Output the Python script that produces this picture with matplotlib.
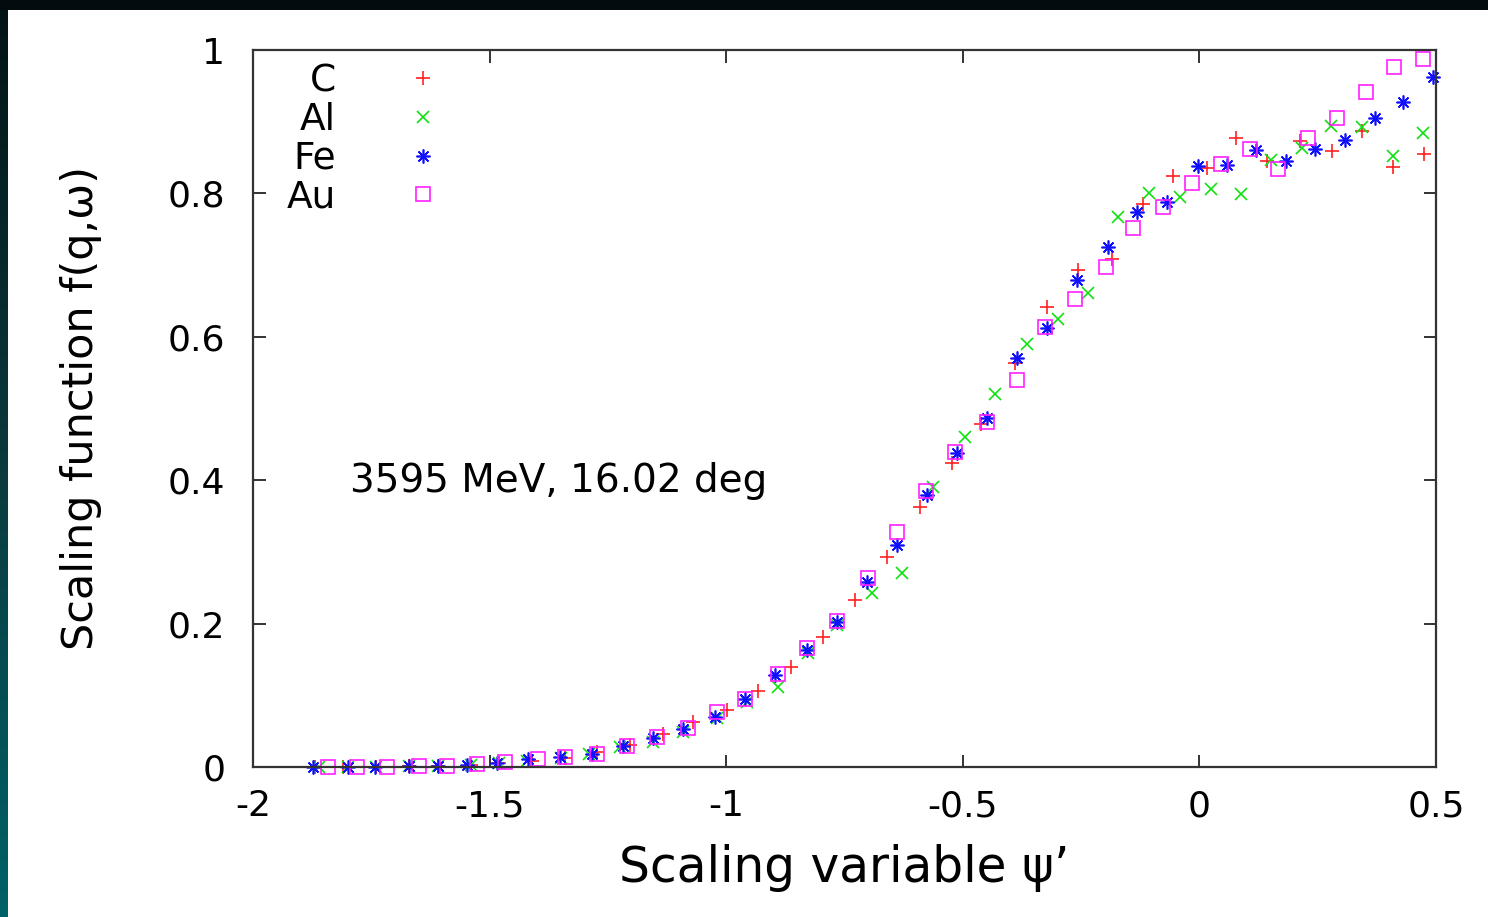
import numpy as np
import matplotlib
matplotlib.use('Agg')
import matplotlib.pyplot as plt
from matplotlib.patches import Rectangle

plt.rcParams['font.family'] = ['DejaVu Sans']

# scaling function data
x_c = [-1.87, -1.81, -1.74, -1.67, -1.61, -1.54, -1.48, -1.41, -1.34, -1.273, -1.203, -1.133,
       -1.070, -0.998, -0.932, -0.863, -0.795, -0.728, -0.660, -0.590, -0.523, -0.462, -0.390,
       -0.322, -0.256, -0.184, -0.119, -0.056, 0.016, 0.078, 0.143, 0.213, 0.280, 0.343, 0.409, 0.475]
y_c = [0.0, 0.0, 0.0, 0.001, 0.002, 0.003, 0.005, 0.008, 0.013, 0.021, 0.031, 0.046,
       0.063, 0.079, 0.106, 0.140, 0.181, 0.233, 0.293, 0.363, 0.424, 0.478, 0.563,
       0.642, 0.693, 0.709, 0.785, 0.824, 0.835, 0.877, 0.845, 0.873, 0.859, 0.887, 0.837, 0.855]

x_al = [-1.86, -1.80, -1.74, -1.67, -1.61, -1.54, -1.48, -1.42, -1.35, -1.29, -1.225, -1.155,
        -1.091, -1.02, -0.957, -0.891, -0.827, -0.766, -0.692, -0.628, -0.563, -0.495, -0.432,
        -0.364, -0.298, -0.235, -0.172, -0.106, -0.040, 0.025, 0.088, 0.151, 0.217, 0.279,
        0.343, 0.409, 0.472]
y_al = [0.0, 0.0, 0.0, 0.001, 0.002, 0.003, 0.006, 0.009, 0.013, 0.018, 0.028, 0.035,
        0.049, 0.068, 0.091, 0.112, 0.159, 0.198, 0.243, 0.270, 0.391, 0.460, 0.520,
        0.590, 0.625, 0.661, 0.767, 0.801, 0.795, 0.806, 0.799, 0.847, 0.863, 0.894,
        0.893, 0.852, 0.884]

x_fe = [-1.873, -1.80, -1.742, -1.67, -1.61, -1.548, -1.484, -1.419, -1.351, -1.284, -1.218,
        -1.155, -1.091, -1.023, -0.960, -0.897, -0.829, -0.765, -0.702, -0.638, -0.575, -0.512,
        -0.449, -0.385, -0.322, -0.258, -0.193, -0.132, -0.069, -0.003, 0.059, 0.120, 0.183,
        0.245, 0.308, 0.371, 0.430, 0.494]
y_fe = [0.0, 0.0, 0.0, 0.001, 0.002, 0.003, 0.006, 0.011, 0.014, 0.018, 0.029,
        0.041, 0.053, 0.070, 0.095, 0.128, 0.163, 0.202, 0.258, 0.310, 0.379, 0.438,
        0.487, 0.570, 0.612, 0.679, 0.725, 0.774, 0.788, 0.838, 0.840, 0.861, 0.845,
        0.862, 0.874, 0.905, 0.928, 0.962]

x_au = [-1.841, -1.780, -1.717, -1.65, -1.59, -1.526, -1.467, -1.398, -1.341, -1.273, -1.209,
        -1.146, -1.081, -1.019, -0.960, -0.891, -0.829, -0.765, -0.700, -0.639, -0.578, -0.516,
        -0.449, -0.385, -0.326, -0.263, -0.198, -0.140, -0.077, -0.015, 0.046, 0.107, 0.166,
        0.229, 0.291, 0.352, 0.411, 0.472]
y_au = [0.0, 0.0, 0.0, 0.001, 0.002, 0.004, 0.007, 0.011, 0.014, 0.018, 0.029,
        0.042, 0.054, 0.077, 0.095, 0.130, 0.166, 0.204, 0.263, 0.328, 0.385, 0.440,
        0.481, 0.540, 0.614, 0.653, 0.697, 0.752, 0.781, 0.814, 0.841, 0.862, 0.834,
        0.877, 0.905, 0.941, 0.976, 0.987]

x_ticks = [-2, -1.5, -1, -0.5, 0, 0.5]
x_ticklabels = ['-2', '-1.5', '-1', '-0.5', '0', '0.5']
y_ticks = [0, 0.2, 0.4, 0.6, 0.8, 1]
y_ticklabels = ['0', '0.2', '0.4', '0.6', '0.8', '1']


fig = plt.figure(figsize=(14.88, 9.17), dpi=100)
fig.patch.set_facecolor('white')

# dark frame of the screenshot
fig.patches.append(Rectangle((0, 1 - 10 / 917), 1, 10 / 917, transform=fig.transFigure,
                             facecolor='#020c0e', edgecolor='none', zorder=0))
strip = fig.add_axes([0, 0, 8 / 1488, 1 - 10 / 917])
grad = np.linspace(0, 1, 256).reshape(-1, 1)
strip.imshow(grad, aspect='auto', cmap=matplotlib.colors.LinearSegmentedColormap.from_list(
    'teal', ['#031416', '#0a3a3e', '#006268']), origin='upper')
strip.axis('off')

ax = fig.add_axes([253 / 1488, 150 / 917, 1183 / 1488, 717 / 917])

ms = 10
ax.plot(x_c, y_c, ls='none', marker='+', ms=ms, mew=1.2, color='#ff2020', label='C', clip_on=False)
ax.plot(x_al, y_al, ls='none', marker='x', ms=ms - 1, mew=1.2, color='#10e010', label='Al', clip_on=False)
ax.plot(x_fe, y_fe, ls='none', marker=(8, 2, 0), ms=ms, mew=1.2, color='#1010ff', label='Fe', clip_on=False)
ax.plot(x_au, y_au, ls='none', marker='s', ms=ms, mew=1.2, mfc='none', color='#ff20ff', label='Au', clip_on=False)

ax.set_xlim(-2, 0.5)
ax.set_ylim(0, 1)
ax.set_xticks(x_ticks)
ax.set_xticklabels(x_ticklabels)
ax.set_yticks(y_ticks)
ax.set_yticklabels(y_ticklabels)
ax.tick_params(direction='in', length=9, width=1.4, color='#333333', labelsize=26,
               top=True, right=True)
ax.tick_params(axis='x', pad=16)
ax.tick_params(axis='y', pad=20)
for s in ax.spines.values():
    s.set_color('#333333')
    s.set_linewidth(1.6)

ax.set_xlabel('Scaling variable ψ’', fontsize=35)
ax.xaxis.set_label_coords(0.5, -0.108)
ax.set_ylabel('Scaling function f(q,ω)', fontsize=31)
ax.yaxis.set_label_coords(-0.128, 0.5)

ax.text(-1.795, 0.399, '3595 MeV, 16.02 deg', fontsize=28, va='center', ha='left')

leg = ax.legend(loc='upper right', bbox_to_anchor=(0.188, 1.002), frameon=False, fontsize=27,
                markerfirst=False, numpoints=1, handletextpad=1.32, labelspacing=0.07,
                borderaxespad=0.0)

fig.savefig('out.png', dpi=100)
